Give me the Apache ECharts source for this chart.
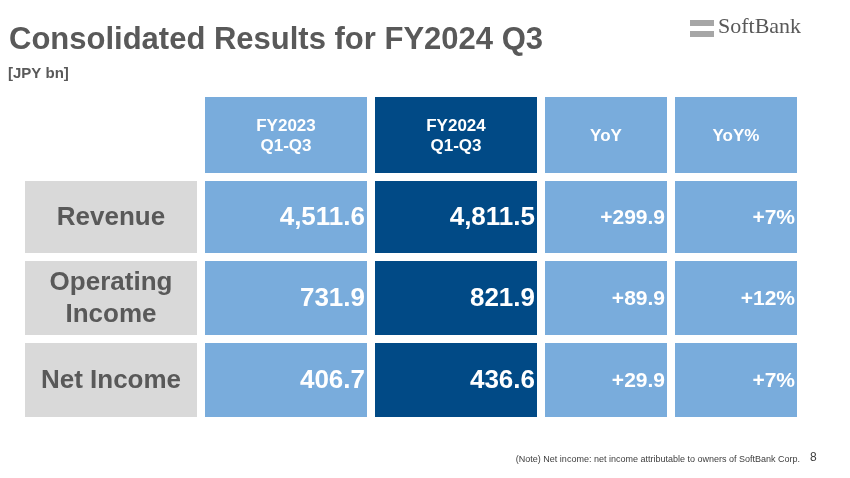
<!DOCTYPE html>
<html>
<head>
<meta charset="utf-8">
<script src="https://cdn.jsdelivr.net/npm/echarts@6/dist/echarts.min.js"></script>
<style>html,body{margin:0;padding:0;background:#fff}#chart{width:850px;height:478px}</style>
</head>
<body>
<div id="chart"></div>
<script>
// table data
var headers = ['FY2023\nQ1-Q3', 'FY2024\nQ1-Q3', 'YoY', 'YoY%'];
var rowNames = ['Revenue', 'Operating\nIncome', 'Net Income'];
var fy2023 = ['4,511.6', '731.9', '406.7'];
var fy2024 = ['4,811.5', '821.9', '436.6'];
var yoy = ['+299.9', '+89.9', '+29.9'];
var yoyPct = ['+7%', '+12%', '+7%'];

// layout (px on a 850x478 value grid)
var colEdges = [[25, 197], [205, 367], [375, 537], [545, 667], [675, 797]];
var rowEdges = [[97, 173], [181, 253], [261, 335], [343, 417]];
var LIGHT = '#79acdc', DARK = '#014a86', GREY = '#d9d9d9';

var cells = [];
headers.forEach(function (h, i) {
  cells.push({ c: i + 1, r: 0, text: h, fill: i === 1 ? DARK : LIGHT, kind: 'head' });
});
var cols = [fy2023, fy2024, yoy, yoyPct];
rowNames.forEach(function (n, r) {
  cells.push({ c: 0, r: r + 1, text: n, fill: GREY, kind: 'name' });
  cols.forEach(function (arr, i) {
    cells.push({ c: i + 1, r: r + 1, text: arr[r], fill: i === 1 ? DARK : LIGHT, kind: i < 2 ? 'big' : 'small' });
  });
});

var myChart = echarts.init(document.getElementById('chart'));
var option = {
  animation: false,
  grid: { left: 0, right: 0, top: 0, bottom: 0 },
  xAxis: { type: 'value', min: 0, max: 850, show: false },
  yAxis: { type: 'value', min: 0, max: 478, inverse: true, show: false },
  graphic: [
    { type: 'text', left: 9, top: 25, style: { text: 'Consolidated Results for FY2024 Q3', font: 'bold 31px Arial, "Liberation Sans"', fill: '#595959' } },
    { type: 'text', left: 8, top: 66, style: { text: '[JPY bn]', font: 'bold 15px Arial, "Liberation Sans"', fill: '#595959' } },
    { type: 'rect', left: 690, top: 20, shape: { width: 24, height: 6 }, style: { fill: '#a6a6a6' } },
    { type: 'rect', left: 690, top: 31, shape: { width: 24, height: 6 }, style: { fill: '#a6a6a6' } },
    { type: 'text', left: 718, top: 16, style: { text: 'SoftBank', font: '22px "Liberation Serif", serif', fill: '#595959' } },
    { type: 'text', right: 50, top: 455, style: { text: '(Note) Net income: net income attributable to owners of SoftBank Corp.', font: '9px Arial, "Liberation Sans"', fill: '#404040' } },
    { type: 'text', left: 810, top: 452, style: { text: '8', font: '12px Arial, "Liberation Sans"', fill: '#404040' } }
  ],
  series: [{
    type: 'custom',
    data: cells.map(function (d) { return [d.c, d.r]; }),
    renderItem: function (params, api) {
      var d = cells[params.dataIndex];
      var ce = colEdges[d.c], re = rowEdges[d.r];
      var p0 = api.coord([ce[0], re[0]]), p1 = api.coord([ce[1], re[1]]);
      var w = p1[0] - p0[0], h = p1[1] - p0[1];
      var font, fill = '#fff', align = 'right', tx = p1[0] - 2;
      if (d.kind === 'head') { font = 'bold 17px Arial, "Liberation Sans"'; align = 'center'; tx = p0[0] + w / 2; }
      else if (d.kind === 'name') { font = 'bold 26px Arial, "Liberation Sans"'; fill = '#595959'; align = 'center'; tx = p0[0] + w / 2; }
      else if (d.kind === 'big') { font = 'bold 26px Arial, "Liberation Sans"'; }
      else { font = 'bold 21px Arial, "Liberation Sans"'; }
      return {
        type: 'group',
        children: [
          { type: 'rect', shape: { x: p0[0], y: p0[1], width: w, height: h }, style: { fill: d.fill } },
          { type: 'text', style: { x: tx, y: p0[1] + h / 2 + 1, text: d.text, font: font, fill: fill, align: align, verticalAlign: 'middle', lineHeight: d.kind === 'head' ? 20 : 32 } }
        ]
      };
    }
  }]
};
myChart.setOption(option);
</script>
</body>
</html>
